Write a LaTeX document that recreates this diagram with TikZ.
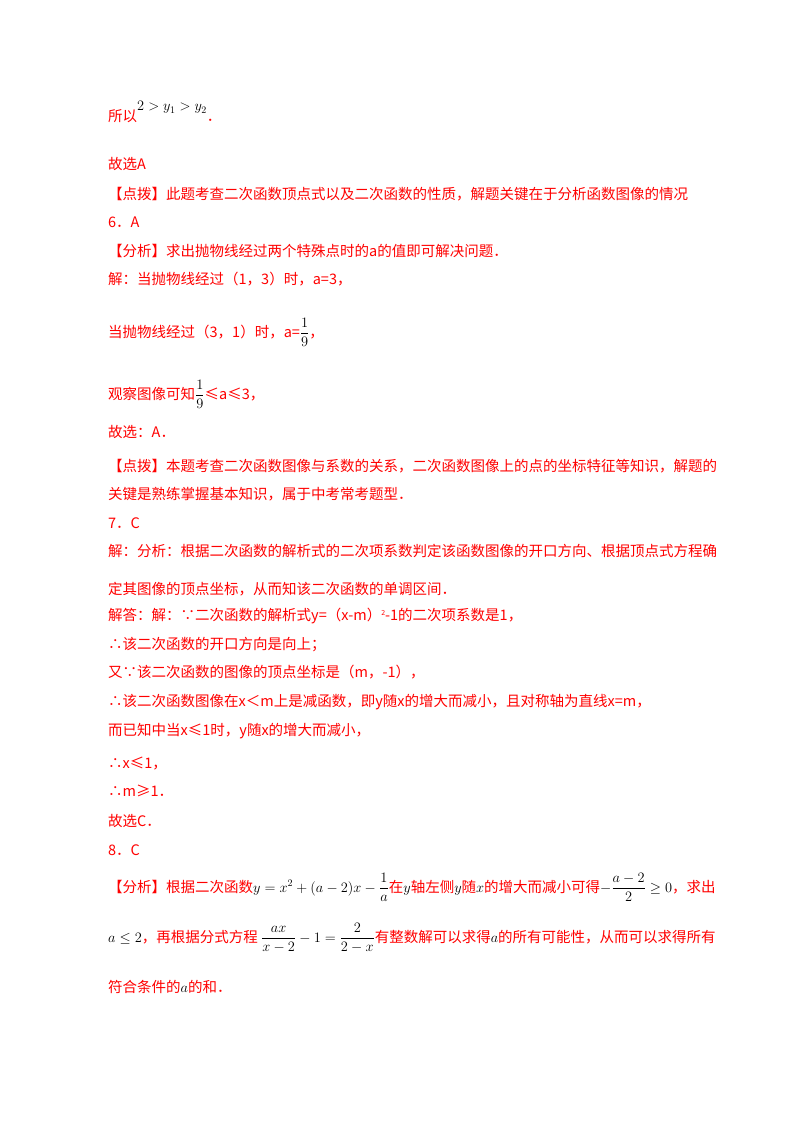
\documentclass[tikz,border=0pt]{standalone}
\usepackage{amsmath}
\usepackage{fontspec}
\setmainfont{Noto Sans CJK SC}
\definecolor{rd}{HTML}{FF0000}
\newcommand{\mth}[1]{\textcolor{black}{$#1$}}
\begin{document}
\begin{tikzpicture}[x=1pt,y=-1pt,
  ln/.style={anchor=base west,inner sep=0pt,text=rd,font=\fontsize{14.5}{17}\selectfont}]
\useasboundingbox (0,0) rectangle (800,1132);
\fill[white] (0,0) rectangle (800,1132);
\node[ln] (l1) at (108,121) {所以\raisebox{10pt}{\mth{2>y_1>y_2}}．};
\node[ln] (l2) at (108,169) {故选A};
\node[ln] (l3) at (108,199) {【点拨】此题考查二次函数顶点式以及二次函数的性质，解题关键在于分析函数图像的情况};
\node[ln] (l4) at (108,227) {6．A};
\node[ln] (l5) at (108,256) {【分析】求出抛物线经过两个特殊点时的a的值即可解决问题．};
\node[ln] (l6) at (108,284) {解：当抛物线经过（1，3）时，a=3，};
\node[ln] (l7) at (108,337) {当抛物线经过（3，1）时，a=\mth{\dfrac{1}{9}}，};
\node[ln] (l8) at (108,399) {观察图像可知\mth{\dfrac{1}{9}}≤a≤3，};
\node[ln] (l9) at (108,437) {故选：A．};
\node[ln] (l10) at (108,471) {【点拨】本题考查二次函数图像与系数的关系，二次函数图像上的点的坐标特征等知识，解题的};
\node[ln] (l11) at (108,499) {关键是熟练掌握基本知识，属于中考常考题型．};
\node[ln] (l12) at (108,528) {7．C};
\node[ln] (l13) at (108,556) {解：分析：根据二次函数的解析式的二次项系数判定该函数图像的开口方向、根据顶点式方程确};
\node[ln] (l14) at (108,594) {定其图像的顶点坐标，从而知该二次函数的单调区间．};
\node[ln] (l15) at (108,620) {解答：解：∵二次函数的解析式y=（x-m）\raisebox{5pt}{\scriptsize 2}-1的二次项系数是1，};
\node[ln] (l16) at (108,649) {∴该二次函数的开口方向是向上；};
\node[ln] (l17) at (108,677) {又∵该二次函数的图像的顶点坐标是（m，-1），};
\node[ln] (l18) at (108,706) {∴该二次函数图像在x＜m上是减函数，即y随x的增大而减小，且对称轴为直线x=m，};
\node[ln] (l19) at (108,735) {而已知中当x≤1时，y随x的增大而减小，};
\node[ln] (l20) at (108,768) {∴x≤1，};
\node[ln] (l21) at (108,796) {∴m≥1．};
\node[ln] (l22) at (108,826) {故选C．};
\node[ln] (l23) at (108,855) {8．C};
\node[ln] (l24) at (108,892) {【分析】根据二次函数\mth{y=x^2+(a-2)x-\dfrac{1}{a}}在\mth{y}轴左侧\mth{y}随\mth{x}的增大而减小可得\mth{-\dfrac{a-2}{2}\geq0}，求出};
\node[ln] (l25) at (108,942) {\mth{a\leq2}，再根据分式方程 \mth{\dfrac{ax}{x-2}-1=\dfrac{2}{2-x}}有整数解可以求得\mth{a}的所有可能性，从而可以求得所有};
\node[ln] (l26) at (108,992) {符合条件的\mth{a}的和．};
\end{tikzpicture}
\end{document}
